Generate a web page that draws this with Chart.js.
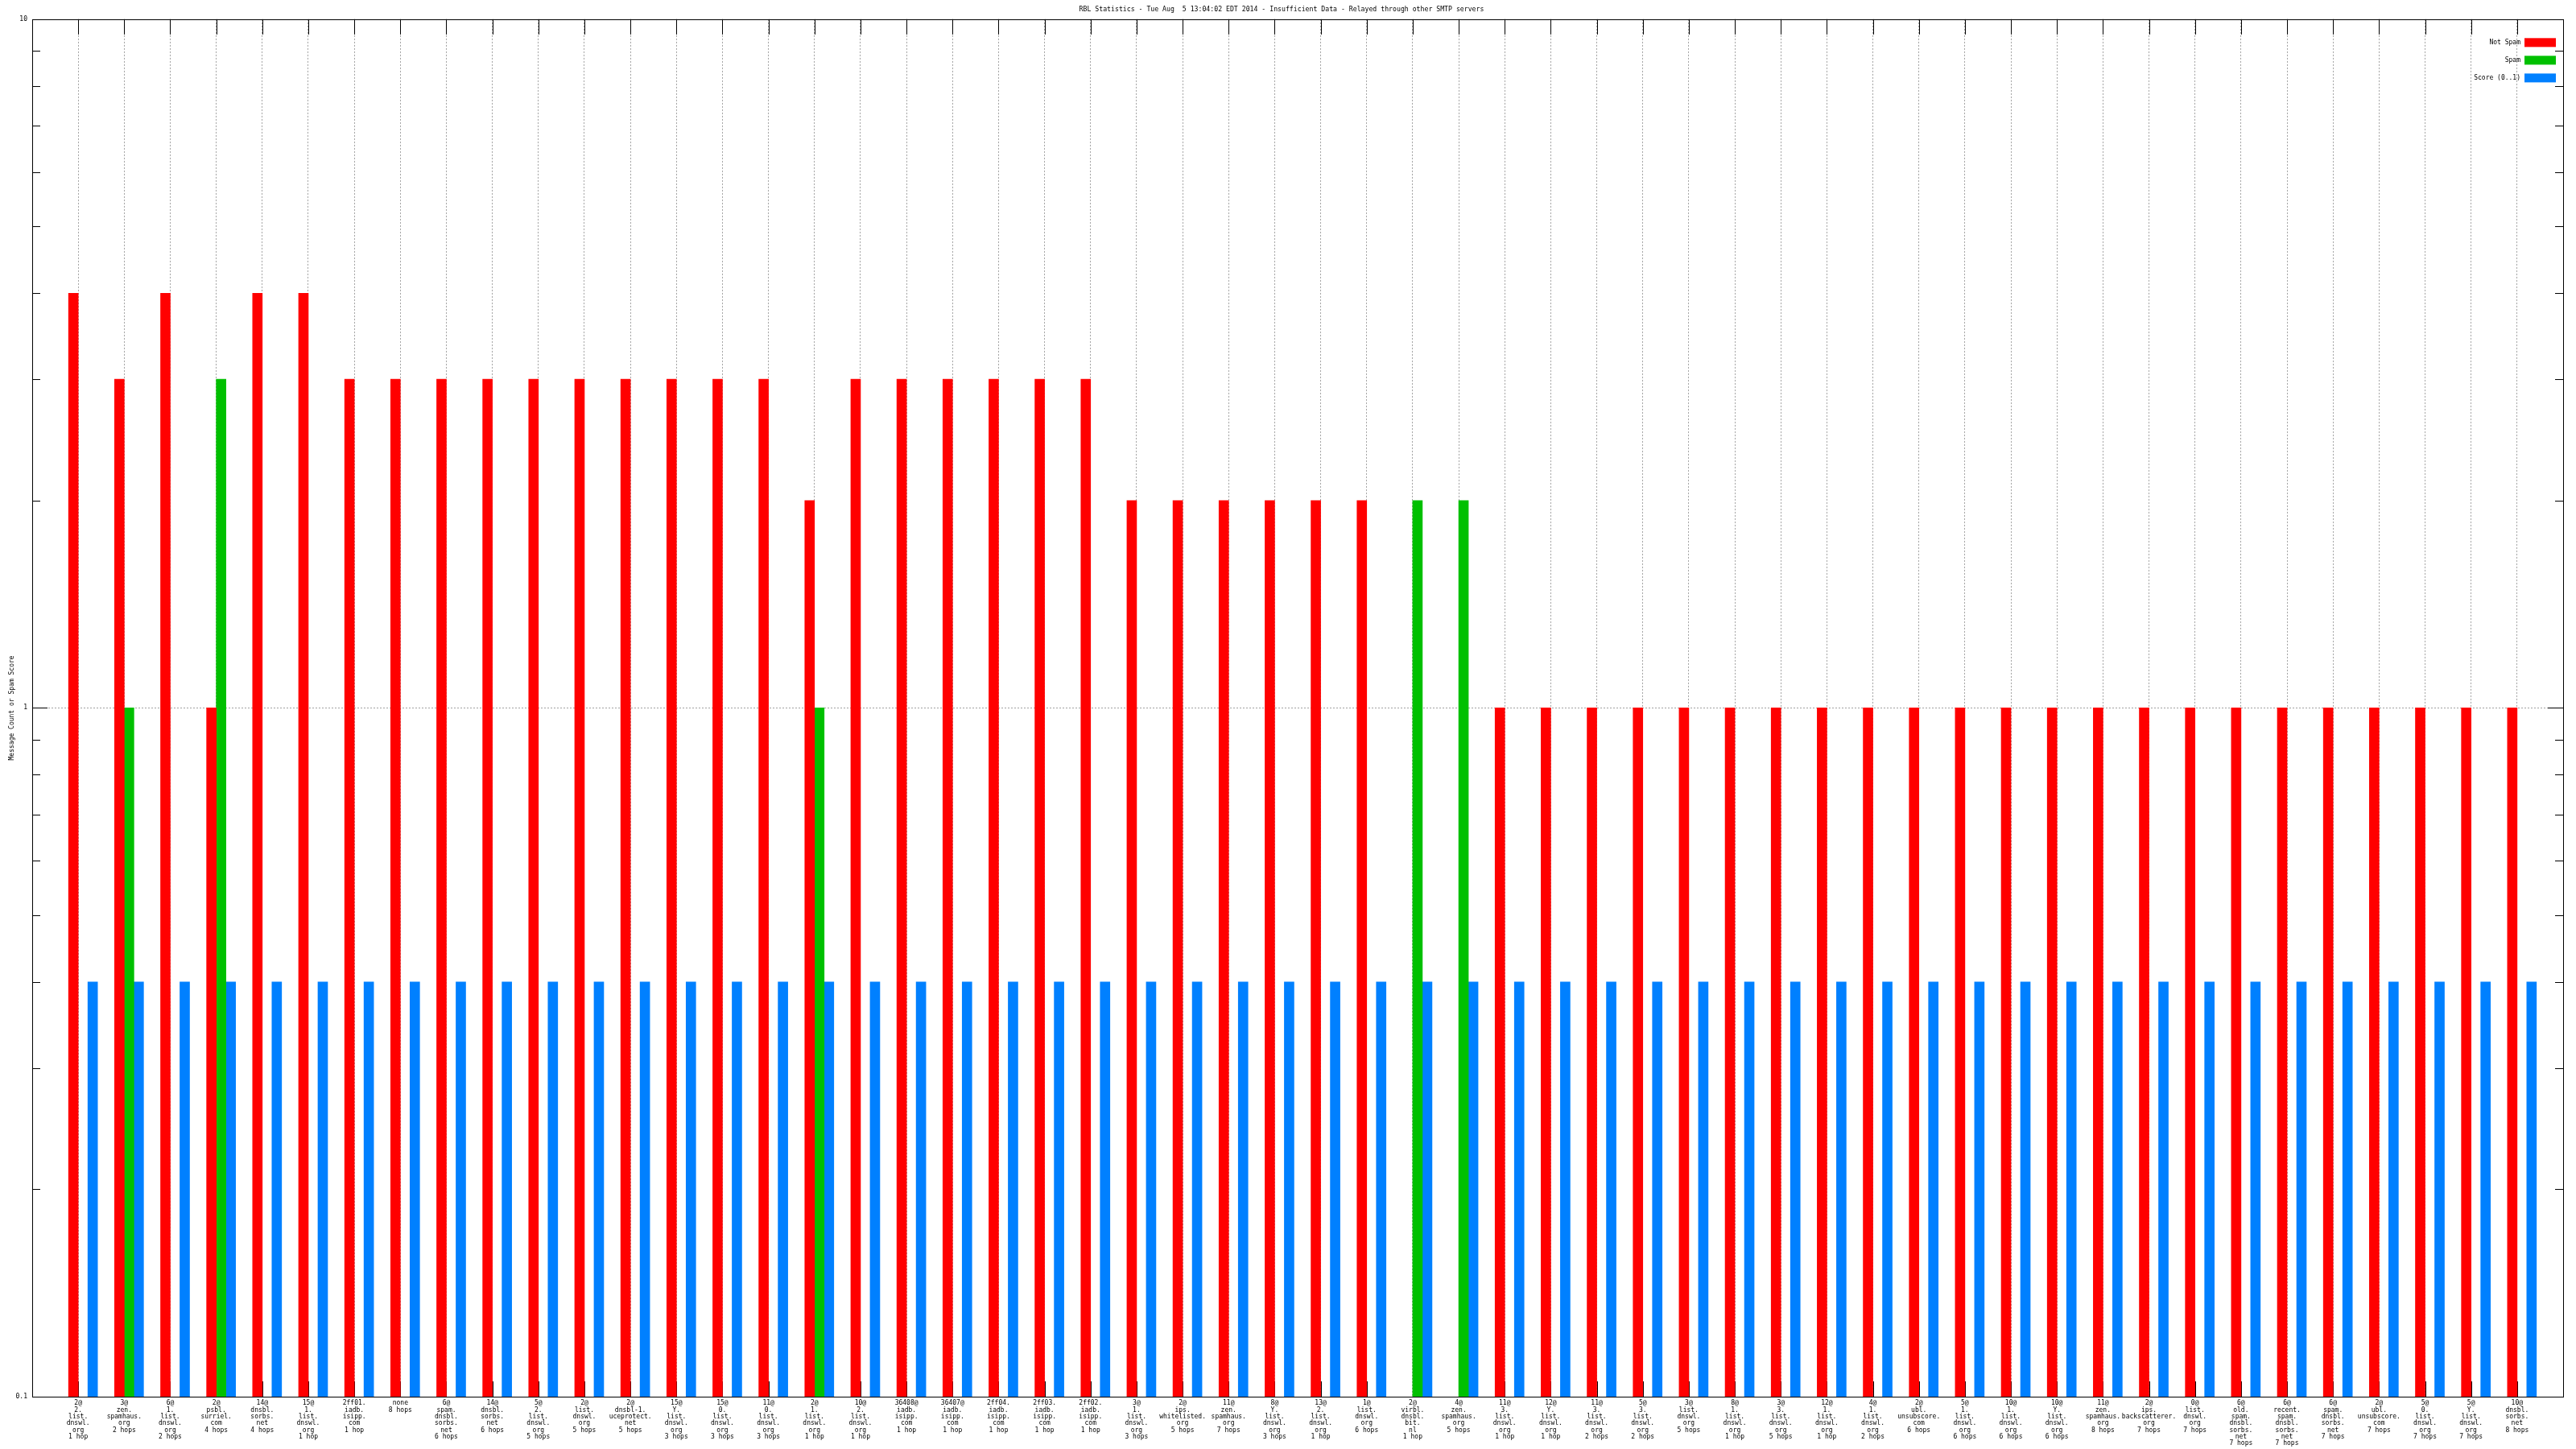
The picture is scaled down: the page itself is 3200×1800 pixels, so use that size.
<!DOCTYPE html>
<html>
<head>
<meta charset="utf-8">
<title>RBL Statistics</title>
<script src="https://cdn.jsdelivr.net/npm/chart.js@4.4.0/dist/chart.umd.min.js"></script>
<style>
  body { margin: 0; background: #fff; }
  canvas { display: block; }
</style>
</head>
<body>
<canvas id="rblChart" width="3200" height="1800"></canvas>
<script>

// rotulos do eixo x (uma linha por item)
var rotulos = [
  ['2@', '2.', 'list.', 'dnswl.', 'org', '1 hop'],
  ['3@', 'zen.', 'spamhaus.', 'org', '2 hops'],
  ['6@', '1.', 'list.', 'dnswl.', 'org', '2 hops'],
  ['2@', 'psbl.', 'surriel.', 'com', '4 hops'],
  ['14@', 'dnsbl.', 'sorbs.', 'net', '4 hops'],
  ['15@', '1.', 'list.', 'dnswl.', 'org', '1 hop'],
  ['2ff01.', 'iadb.', 'isipp.', 'com', '1 hop'],
  ['none', '8 hops'],
  ['6@', 'spam.', 'dnsbl.', 'sorbs.', 'net', '6 hops'],
  ['14@', 'dnsbl.', 'sorbs.', 'net', '6 hops'],
  ['5@', '2.', 'list.', 'dnswl.', 'org', '5 hops'],
  ['2@', 'list.', 'dnswl.', 'org', '5 hops'],
  ['2@', 'dnsbl-1.', 'uceprotect.', 'net', '5 hops'],
  ['15@', 'Y.', 'list.', 'dnswl.', 'org', '3 hops'],
  ['15@', '0.', 'list.', 'dnswl.', 'org', '3 hops'],
  ['11@', '0.', 'list.', 'dnswl.', 'org', '3 hops'],
  ['2@', '1.', 'list.', 'dnswl.', 'org', '1 hop'],
  ['10@', '2.', 'list.', 'dnswl.', 'org', '1 hop'],
  ['36408@', 'iadb.', 'isipp.', 'com', '1 hop'],
  ['36407@', 'iadb.', 'isipp.', 'com', '1 hop'],
  ['2ff04.', 'iadb.', 'isipp.', 'com', '1 hop'],
  ['2ff03.', 'iadb.', 'isipp.', 'com', '1 hop'],
  ['2ff02.', 'iadb.', 'isipp.', 'com', '1 hop'],
  ['3@', '1.', 'list.', 'dnswl.', 'org', '3 hops'],
  ['2@', 'ips.', 'whitelisted.', 'org', '5 hops'],
  ['11@', 'zen.', 'spamhaus.', 'org', '7 hops'],
  ['8@', 'Y.', 'list.', 'dnswl.', 'org', '3 hops'],
  ['13@', '2.', 'list.', 'dnswl.', 'org', '1 hop'],
  ['1@', 'list.', 'dnswl.', 'org', '6 hops'],
  ['2@', 'virbl.', 'dnsbl.', 'bit.', 'nl', '1 hop'],
  ['4@', 'zen.', 'spamhaus.', 'org', '5 hops'],
  ['11@', '3.', 'list.', 'dnswl.', 'org', '1 hop'],
  ['12@', 'Y.', 'list.', 'dnswl.', 'org', '1 hop'],
  ['11@', '3.', 'list.', 'dnswl.', 'org', '2 hops'],
  ['5@', '3.', 'list.', 'dnswl.', 'org', '2 hops'],
  ['3@', 'list.', 'dnswl.', 'org', '5 hops'],
  ['8@', '1.', 'list.', 'dnswl.', 'org', '1 hop'],
  ['3@', '3.', 'list.', 'dnswl.', 'org', '5 hops'],
  ['12@', '1.', 'list.', 'dnswl.', 'org', '1 hop'],
  ['4@', '1.', 'list.', 'dnswl.', 'org', '2 hops'],
  ['2@', 'ubl.', 'unsubscore.', 'com', '6 hops'],
  ['5@', '1.', 'list.', 'dnswl.', 'org', '6 hops'],
  ['10@', '1.', 'list.', 'dnswl.', 'org', '6 hops'],
  ['10@', 'Y.', 'list.', 'dnswl.', 'org', '6 hops'],
  ['11@', 'zen.', 'spamhaus.', 'org', '8 hops'],
  ['2@', 'ips.', 'backscatterer.', 'org', '7 hops'],
  ['0@', 'list.', 'dnswl.', 'org', '7 hops'],
  ['6@', 'old.', 'spam.', 'dnsbl.', 'sorbs.', 'net', '7 hops'],
  ['6@', 'recent.', 'spam.', 'dnsbl.', 'sorbs.', 'net', '7 hops'],
  ['6@', 'spam.', 'dnsbl.', 'sorbs.', 'net', '7 hops'],
  ['2@', 'ubl.', 'unsubscore.', 'com', '7 hops'],
  ['5@', '0.', 'list.', 'dnswl.', 'org', '7 hops'],
  ['5@', 'Y.', 'list.', 'dnswl.', 'org', '7 hops'],
  ['10@', 'dnsbl.', 'sorbs.', 'net', '8 hops']
];

var notSpam = [4, 3, 4, 1, 4, 4, 3, 3, 3, 3, 3, 3, 3, 3, 3, 3, 2, 3, 3, 3, 3, 3, 3, 2, 2, 2, 2, 2, 2, null,
  null, 1, 1, 1, 1, 1, 1, 1, 1, 1, 1, 1, 1, 1, 1, 1, 1, 1, 1, 1, 1, 1, 1, 1];
var spam = [null, 1, null, 3, null, null, null, null, null, null, null, null, null, null, null, null, 1, null, null, null,
  null, null, null, null, null, null, null, null, null, 2, 2, null, null, null, null, null, null, null, null, null,
  null, null, null, null, null, null, null, null, null, null, null, null, null, null];
var score = [0.4, 0.4, 0.4, 0.4, 0.4, 0.4, 0.4, 0.4, 0.4, 0.4, 0.4, 0.4, 0.4, 0.4, 0.4, 0.4, 0.4, 0.4, 0.4, 0.4,
  0.4, 0.4, 0.4, 0.4, 0.4, 0.4, 0.4, 0.4, 0.4, 0.4, 0.4, 0.4, 0.4, 0.4, 0.4, 0.4, 0.4, 0.4, 0.4, 0.4,
  0.4, 0.4, 0.4, 0.4, 0.4, 0.4, 0.4, 0.4, 0.4, 0.4, 0.4, 0.4, 0.4, 0.4];

var yTicks = [0.1, 1, 10];
var yMenores = [0.2, 0.3, 0.4, 0.5, 0.6, 0.7, 0.8, 0.9, 2, 3, 4, 5, 6, 7, 8, 9];

var titulo = 'RBL Statistics - Tue Aug  5 13:04:02 EDT 2014 - Insufficient Data - Relayed through other SMTP servers';
var fonteMono = 'DejaVu Sans Mono';

// uma categoria vazia em cada ponta, como no gnuplot
function comBorda(arr) {
  return [null].concat(arr, [null]);
}

// marcas internas dos eixos, moldura e legenda
var gnuplotLook = {
  id: 'gnuplotLook',
  beforeDatasetsDraw: function (chart) {
    var ctx = chart.ctx, a = chart.chartArea;
    var x = chart.scales.x, y = chart.scales.y;
    ctx.save();
    ctx.strokeStyle = '#000';
    ctx.lineWidth = 1;
    ctx.beginPath();
    yMenores.forEach(function (v) {
      var p = Math.round(y.getPixelForValue(v)) + 0.5;
      ctx.moveTo(a.left, p); ctx.lineTo(a.left + 10, p);
      ctx.moveTo(a.right, p); ctx.lineTo(a.right - 10, p);
    });
    yTicks.forEach(function (v) {
      var p = Math.round(y.getPixelForValue(v)) + 0.5;
      ctx.moveTo(a.left, p); ctx.lineTo(a.left + 19, p);
      ctx.moveTo(a.right, p); ctx.lineTo(a.right - 19, p);
    });
    for (var i = 1; i <= rotulos.length; i++) {
      var px = Math.round(x.getPixelForValue(i)) + 0.5;
      ctx.moveTo(px, a.top); ctx.lineTo(px, a.top + 19);
      ctx.moveTo(px, a.bottom); ctx.lineTo(px, a.bottom - 19);
    }
    ctx.stroke();
    ctx.restore();
  },
  afterDatasetsDraw: function (chart) {
    var ctx = chart.ctx, a = chart.chartArea;
    ctx.save();
    ctx.strokeStyle = '#000';
    ctx.lineWidth = 1;
    ctx.strokeRect(Math.round(a.left) + 0.5, Math.round(a.top) + 0.5,
      Math.round(a.right - a.left), Math.round(a.bottom - a.top));

    // legenda no canto superior direito
    ctx.font = '8px "' + fonteMono + '"';
    ctx.textAlign = 'right';
    ctx.textBaseline = 'middle';
    var series = chart.data.datasets.filter(function (ds) { return ds.label; });
    series.forEach(function (ds, i) {
      var yc = a.top + 29 + i * 22;
      ctx.fillStyle = ds.backgroundColor;
      ctx.fillRect(a.right - 48, yc - 5.5, 39, 11);
      ctx.fillStyle = '#000';
      ctx.fillText(ds.label, a.right - 53, yc);
    });
    ctx.restore();
  }
};

graficoRbl();

function graficoRbl() {

  const ctx = document.getElementById('rblChart').getContext('2d');
  const rblChart = new Chart(ctx, {
    type: 'bar',
    data: {
      labels: comBorda(rotulos).map(function (r) { return r || ''; }),
      datasets: [{
        // serie vazia: empurra o grupo de barras para a direita, como no gnuplot
        label: '',
        data: comBorda([]),
        backgroundColor: 'rgba(0,0,0,0)'
      }, {
        label: 'Not Spam',
        data: comBorda(notSpam),
        backgroundColor: '#ff0000'
      }, {
        label: 'Spam',
        data: comBorda(spam),
        backgroundColor: '#00c000'
      }, {
        label: 'Score (0..1)',
        data: comBorda(score),
        backgroundColor: '#0080ff'
      }]
    },
    options: {
      responsive: false,
      animation: false,
      devicePixelRatio: 1,
      layout: { padding: { left: 0, right: 16, top: 0, bottom: 0 } },
      datasets: {
        bar: { barThickness: 12, borderWidth: 0 }
      },
      plugins: {
        legend: { display: false },
        tooltip: { enabled: false },
        title: {
          display: true,
          text: titulo,
          color: '#000',
          font: { family: fonteMono, size: 8.2, weight: 'normal', lineHeight: 1.2 },
          padding: { top: 7, bottom: 7 }
        }
      },
      scales: {
        x: {
          type: 'category',
          offset: false,
          grid: {
            offset: false,
            drawTicks: false,
            color: '#a0a0a0',
            lineWidth: 1
          },
          border: { display: false, dash: [2, 2] },
          ticks: {
            autoSkip: false,
            maxRotation: 0,
            minRotation: 0,
            padding: 4,
            color: '#000',
            font: { family: fonteMono, size: 8, lineHeight: 1.04 }
          },
          afterFit: function (s) { s.height = 65; }
        },
        y: {
          type: 'logarithmic',
          min: 0.1,
          max: 10,
          afterBuildTicks: function (s) {
            s.ticks = yTicks.map(function (v) { return { value: v }; });
          },
          afterFit: function (s) { s.width = 40; },
          grid: {
            drawTicks: false,
            color: function (c) { return c.tick && c.tick.value === 1 ? '#a0a0a0' : 'rgba(0,0,0,0)'; },
            lineWidth: 1
          },
          border: { display: false, dash: [2, 2] },
          ticks: {
            padding: 6,
            color: '#000',
            font: { family: fonteMono, size: 8 },
            callback: function (v) { return String(v); }
          },
          title: {
            display: true,
            text: 'Message Count or Spam Score',
            color: '#000',
            font: { family: fonteMono, size: 8 },
            padding: { top: 10, bottom: 0 }
          }
        }
      }
    },
    plugins: [gnuplotLook]
  });

}
</script>
</body>
</html>
